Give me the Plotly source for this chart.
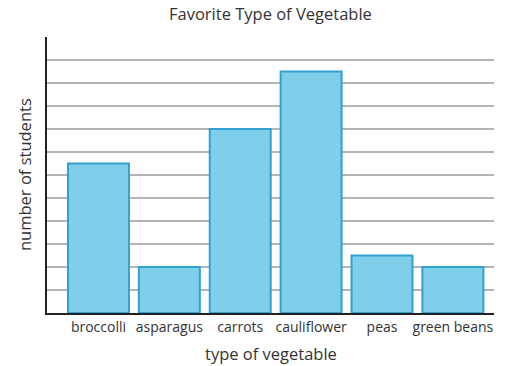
import plotly.graph_objects as go

categories = ["broccolli", "asparagus", "carrots", "cauliflower", "peas", "green beans"]
students = [6.5, 2, 8, 10.5, 2.5, 2]
positions = list(range(len(categories)))

fig = go.Figure()
fig.add_trace(go.Bar(
    x=positions, y=students, width=0.86,
    marker=dict(color="#7FCFEB", line=dict(color="#33A0D2", width=2)),
    hoverinfo="skip",
))

font_family = "Open Sans, Noto Sans, sans-serif"
fig.update_layout(
    width=509, height=366,
    margin=dict(l=47, r=15, t=37, b=53, autoexpand=False),
    plot_bgcolor="white", paper_bgcolor="white",
    showlegend=False,
    font=dict(family=font_family, color="#333333"),
    annotations=[
        dict(text="Favorite Type of Vegetable", xref="paper", yref="paper", x=0.5, y=1, yshift=24,
             xanchor="center", yanchor="middle", showarrow=False,
             font=dict(size=16.5, color="#333333")),
        dict(text="type of vegetable", xref="paper", yref="paper", x=0.5, y=0, yshift=-40,
             xanchor="center", yanchor="middle", showarrow=False,
             font=dict(size=16.5, color="#333333")),
        dict(text="number of students", xref="paper", yref="paper", x=0, xshift=-23, y=0.5,
             xanchor="center", yanchor="middle", showarrow=False, textangle=-90,
             font=dict(size=16.5, color="#333333")),
    ],
)
fig.update_xaxes(
    range=[-0.726, 5.58], tickvals=positions, ticktext=categories,
    tickfont=dict(size=14, color="#333333"), ticks="", showgrid=False,
    showline=True, linecolor="#222222", linewidth=2,
    zeroline=False, automargin=False,
)
fig.update_yaxes(
    range=[0, 12], dtick=1, showticklabels=False, ticks="",
    showgrid=True, gridcolor="#b4b4b4", gridwidth=1.5,
    showline=True, linecolor="#222222", linewidth=2, zeroline=False, automargin=False,
)
fig.write_html("out.html", config={"displayModeBar": False},
               post_script="document.body.style.margin='0';")
